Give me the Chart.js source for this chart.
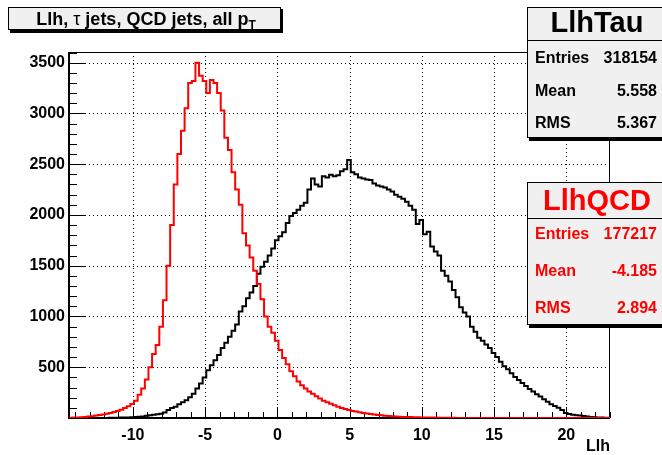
<!DOCTYPE html>
<html>
<head>
<meta charset="utf-8">
<script src="https://cdn.jsdelivr.net/npm/chart.js@4.4.1/dist/chart.umd.min.js"></script>
<style>
    body { margin: 0; background: #fff; }
    canvas { display: block; }
</style>
</head>
<body>
<canvas id="llhChart" width="662" height="455"></canvas>
<script>
// Llh axis binning
const binStart = -14.42;
const binWidth = 0.25;
const xMin = -14.42;
const xMax = 23.02;
const yMax = 3605;

// LlhQCD (red) bin contents
const qcdCounts = [3, 4, 6, 8, 11, 14, 18, 24, 30, 35,
    42, 50, 58, 68, 82, 98, 115, 138, 170, 230,
    290, 380, 500, 630, 720, 900, 1160, 1500, 1900, 2300,
    2600, 2830, 3050, 3300, 3320, 3500, 3370, 3320, 3200, 3330,
    3300, 3200, 3030, 2760, 2640, 2420, 2250, 2100, 1820, 1700,
    1580, 1450, 1320, 1170, 1000, 900, 840, 760, 670, 590,
    530, 460, 410, 360, 322, 290, 262, 240, 215, 192,
    170, 155, 140, 125, 110, 98, 88, 78, 70, 63,
    56, 50, 44, 39, 34, 30, 26, 22, 19, 17,
    15, 13, 11, 10, 9, 8, 7, 6, 5, 5,
    4, 4, 3, 3, 2, 2, 2, 1, 1, 1,
    1, 1, 1, 1, 0, 0, 0, 0, 0, 0,
    0, 0, 0, 0, 0, 0, 0, 0, 0, 0,
    0, 0, 0, 0, 0, 0, 0, 0, 0, 0,
    0, 0, 0, 0, 0, 0, 0, 0, 0, 0];

// LlhTau (black) bin contents
const tauCounts = [0, 0, 0, 0, 0, 0, 0, 0, 0, 1,
    1, 2, 2, 3, 4, 5, 6, 8, 10, 12,
    16, 22, 28, 32, 36, 42, 55, 80, 98, 112,
    135, 155, 175, 205, 240, 290, 340, 400, 470, 520,
    570, 620, 690, 740, 800, 860, 920, 1050, 1100, 1180,
    1235, 1300, 1420, 1490, 1540, 1600, 1670, 1750, 1790, 1830,
    1920, 1990, 2020, 2050, 2090, 2120, 2250, 2360, 2300, 2280,
    2380, 2370, 2395, 2380, 2390, 2430, 2450, 2540, 2420, 2400,
    2370, 2360, 2350, 2345, 2310, 2290, 2280, 2270, 2250, 2230,
    2200, 2180, 2160, 2130, 2090, 2050, 1910, 1950, 1810, 1835,
    1690, 1640, 1600, 1450, 1400, 1345, 1260, 1190, 1090, 1040,
    1000, 900, 850, 790, 760, 725, 690, 640, 600, 555,
    510, 480, 440, 405, 375, 345, 315, 285, 260, 235,
    212, 185, 160, 135, 118, 100, 80, 50, 40, 33,
    28, 25, 20, 15, 11, 8, 6, 4, 3, 2];

// tick labels
const xTickValues = [-10, -5, 0, 5, 10, 15, 20];
const yTickValues = [500, 1000, 1500, 2000, 2500, 3000, 3500];
const xMinorStep = 1;
const yMinorStep = 100;

const xAxisTitle = 'Llh';
const tauStats = [['Entries', '318154'], ['Mean', '5.558'], ['RMS', '5.367']];
const qcdStats = [['Entries', '177217'], ['Mean', '-4.185'], ['RMS', '2.894']];

const FONT = '"Liberation Sans", Arial, Helvetica, sans-serif';

// build step points from bin contents (left edges + closing right edge)
function toSteps(counts) {
    const pts = counts.map((c, i) => ({ x: binStart + i * binWidth, y: c }));
    pts.push({ x: binStart + counts.length * binWidth, y: counts[counts.length - 1] });
    return pts;
}

function line(ctx, x1, y1, x2, y2) {
    ctx.beginPath();
    ctx.moveTo(x1, y1);
    ctx.lineTo(x2, y2);
    ctx.stroke();
}

function drawPave(ctx, l, t, r, b) {
    // shadow, fill, border
    ctx.fillStyle = '#000';
    ctx.fillRect(l + 2, t + 2, r - l, b - t + 1);
    ctx.fillStyle = '#f0f0f0';
    ctx.fillRect(l, t, r - l, b - t);
    ctx.strokeStyle = '#000';
    ctx.lineWidth = 1;
    ctx.strokeRect(l + 0.5, t + 0.5, r - l - 1, b - t - 1);
}

function drawStats(ctx, top, bottom, divider, name, rows, rowBase, rowGap, color) {
    const l = 527, r = 672;
    drawPave(ctx, l, top, r, bottom);
    ctx.strokeStyle = '#000';
    line(ctx, l, divider + 0.5, r, divider + 0.5);
    ctx.fillStyle = color;
    ctx.font = 'bold 29px ' + FONT;
    ctx.textAlign = 'center';
    ctx.textBaseline = 'alphabetic';
    ctx.fillText(name, 597, divider - 8);
    ctx.font = 'bold 16px ' + FONT;
    rows.forEach((row, i) => {
        const yy = rowBase + i * rowGap;
        ctx.textAlign = 'left';
        ctx.fillText(row[0], 535, yy);
        ctx.textAlign = 'right';
        ctx.fillText(row[1], 657, yy);
    });
}

const rootFrame = {
    id: 'rootFrame',
    beforeDatasetsDraw(chart) {
        const { ctx, chartArea: a, scales: { x, y } } = chart;
        ctx.save();
        ctx.strokeStyle = '#000';
        ctx.lineWidth = 1;
        // dotted grid
        ctx.setLineDash([1, 3]);
        xTickValues.forEach(v => {
            const px = Math.round(x.getPixelForValue(v)) + 0.5;
            line(ctx, px, a.top, px, a.bottom);
        });
        yTickValues.forEach(v => {
            const py = Math.round(y.getPixelForValue(v)) + 0.5;
            line(ctx, a.left, py, a.right, py);
        });
        ctx.setLineDash([]);
        // ticks inside the frame
        for (let v = Math.ceil(xMin); v <= xMax; v += xMinorStep) {
            const px = Math.round(x.getPixelForValue(v)) + 0.5;
            const len = xTickValues.includes(v) ? 11 : 6;
            line(ctx, px, a.bottom, px, a.bottom - len);
        }
        for (let v = yMinorStep; v <= yMax; v += yMinorStep) {
            const py = Math.round(y.getPixelForValue(v)) + 0.5;
            const len = yTickValues.includes(v) ? 16 : 8;
            line(ctx, a.left, py, a.left + len, py);
        }
        // frame
        ctx.strokeRect(a.left + 0.5, a.top + 0.5, a.right - a.left - 1, a.bottom - a.top - 1);
        ctx.lineWidth = 2;
        line(ctx, a.left, a.top, a.left, a.bottom + 1);
        line(ctx, a.left, a.bottom, a.right, a.bottom);
        ctx.restore();
    },
    afterDraw(chart) {
        const { ctx, chartArea: a } = chart;
        ctx.save();
        // title pave
        drawPave(ctx, 8, 7, 281, 30);
        ctx.fillStyle = '#000';
        ctx.textBaseline = 'alphabetic';
        ctx.textAlign = 'left';
        const parts = [
            ['Llh, ', 'bold 18px ' + FONT, 0],
            ['\u03c4', '18px ' + FONT, 0],
            [' jets, QCD jets, all p', 'bold 18px ' + FONT, 0],
            ['T', 'bold 12px ' + FONT, 4]
        ];
        let w = 0;
        parts.forEach(p => { ctx.font = p[1]; w += ctx.measureText(p[0]).width; });
        let cx = 146 - w / 2;
        parts.forEach(p => {
            ctx.font = p[1];
            ctx.fillText(p[0], cx, 25 + p[2]);
            cx += ctx.measureText(p[0]).width;
        });
        // axis title
        ctx.font = 'bold 16px ' + FONT;
        ctx.textAlign = 'right';
        ctx.fillText(xAxisTitle, a.right, 451);
        // stats boxes
        drawStats(ctx, 7, 138, 40, 'LlhTau', tauStats, 63, 32.5, '#000');
        drawStats(ctx, 182, 325, 218, 'LlhQCD', qcdStats, 239, 37, '#ff0000');
        ctx.restore();
    }
};

let llhChart = new Chart(document.getElementById('llhChart').getContext('2d'), {
    type: 'line',
    data: {
        datasets: [
            {
                label: 'LlhQCD',
                data: toSteps(qcdCounts),
                borderColor: '#ff0000',
                borderWidth: 2,
                stepped: 'before',
                pointRadius: 0,
                fill: false
            },
            {
                label: 'LlhTau',
                data: toSteps(tauCounts),
                borderColor: '#000000',
                borderWidth: 2,
                stepped: 'before',
                pointRadius: 0,
                fill: false
            }
        ]
    },
    options: {
        responsive: false,
        animation: false,
        events: [],
        layout: { padding: { top: 52, right: 52, left: 0, bottom: 0 } },
        plugins: {
            legend: { display: false },
            tooltip: { enabled: false },
            title: { display: false }
        },
        scales: {
            x: {
                type: 'linear',
                min: xMin,
                max: xMax,
                grid: { display: false, drawTicks: false },
                border: { display: false },
                afterBuildTicks: s => { s.ticks = xTickValues.map(v => ({ value: v })); },
                afterFit: s => { s.height = 37; },
                ticks: {
                    padding: 8,
                    maxRotation: 0,
                    autoSkip: false,
                    color: '#000',
                    callback: v => String(v),
                    font: { family: FONT, size: 16, weight: 'bold' }
                }
            },
            y: {
                type: 'linear',
                min: 0,
                max: yMax,
                grid: { display: false, drawTicks: false },
                border: { display: false },
                afterBuildTicks: s => { s.ticks = yTickValues.map(v => ({ value: v })); },
                afterFit: s => { s.width = 69; },
                ticks: {
                    padding: 4,
                    autoSkip: false,
                    color: '#000',
                    callback: v => String(v),
                    font: { family: FONT, size: 16, weight: 'bold' }
                }
            }
        }
    },
    plugins: [rootFrame]
});
</script>
</body>
</html>
